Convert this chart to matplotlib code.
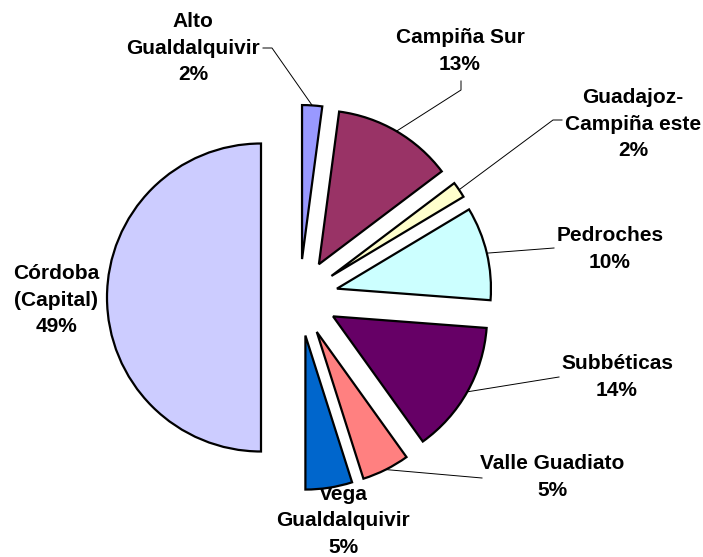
import matplotlib
matplotlib.use("Agg")
import matplotlib.pyplot as plt
import numpy as np

# ---------- DATA ----------
comarcas = ["Alto\nGualdalquivir", "Campiña Sur", "Guadajoz-\nCampiña este",
            "Pedroches", "Subbéticas", "Valle Guadiato",
            "Vega\nGualdalquivir", "Córdoba\n(Capital)"]
# slice sizes as drawn
shares = [2.1, 12.6, 1.7, 9.8, 13.9, 5.0, 4.9, 50.0]
# percentages as printed on the chart
pct_labels = ["2%", "13%", "2%", "10%", "14%", "5%", "5%", "49%"]
colors = ["#9999FF", "#993366", "#FFFFCC", "#CCFFFF",
          "#660066", "#FF8080", "#0066CC", "#CCCCFF"]

# ---------- LAYOUT (pixels, origin top-left) ----------
W, H = 703, 557
CENTER = (299.5, 297.5)
RADIUS = 154
EXPLODE = 0.25  # fraction of the radius
label_pos = [(193, 48), (460, 51), (633, 124), (610, 249),
             (617, 377), (552, 477), (343, 521), (56, 300)]
# leader line: start near label, optional elbow, then to the arc midpoint
leader_start = [(263, 48), (461, 81), (562, 120), (554, 248),
                (559, 377), (482, 478), None, None]
leader_elbow = [(272, 48), (461, 90), (553, 120), None,
                None, None, None, None]


def flip(p):
    return (p[0], H - p[1])


fig = plt.figure(figsize=(W / 100, H / 100), dpi=100)
ax = fig.add_axes([0, 0, 1, 1])

# matplotlib's explode is in data units, so scale by the radius
wedges, _ = ax.pie(shares, colors=colors, startangle=90, counterclock=False,
                   explode=[EXPLODE * RADIUS] * len(shares), radius=RADIUS,
                   center=flip(CENTER), frame=True,
                   wedgeprops=dict(edgecolor="black", linewidth=1.6))
ax.set_xlim(0, W)
ax.set_ylim(0, H)
ax.set_aspect("equal")
ax.axis("off")

for i, w in enumerate(wedges):
    x, y = flip(label_pos[i])
    ax.text(x, y, f"{comarcas[i]}\n{pct_labels[i]}", ha="center", va="center",
            fontsize=15, fontweight="bold", family="Liberation Sans",
            linespacing=1.52, zorder=0.5)
    if leader_start[i] is None:
        continue
    mid = np.radians((w.theta1 + w.theta2) / 2)
    arc = (w.center[0] + w.r * np.cos(mid), w.center[1] + w.r * np.sin(mid))
    pts = [flip(leader_start[i])]
    if leader_elbow[i] is not None:
        pts.append(flip(leader_elbow[i]))
    pts.append(arc)
    xs, ys = zip(*pts)
    ax.plot(xs, ys, color="black", linewidth=0.7, zorder=0.6)

fig.savefig("out.png", dpi=100, facecolor="white")
